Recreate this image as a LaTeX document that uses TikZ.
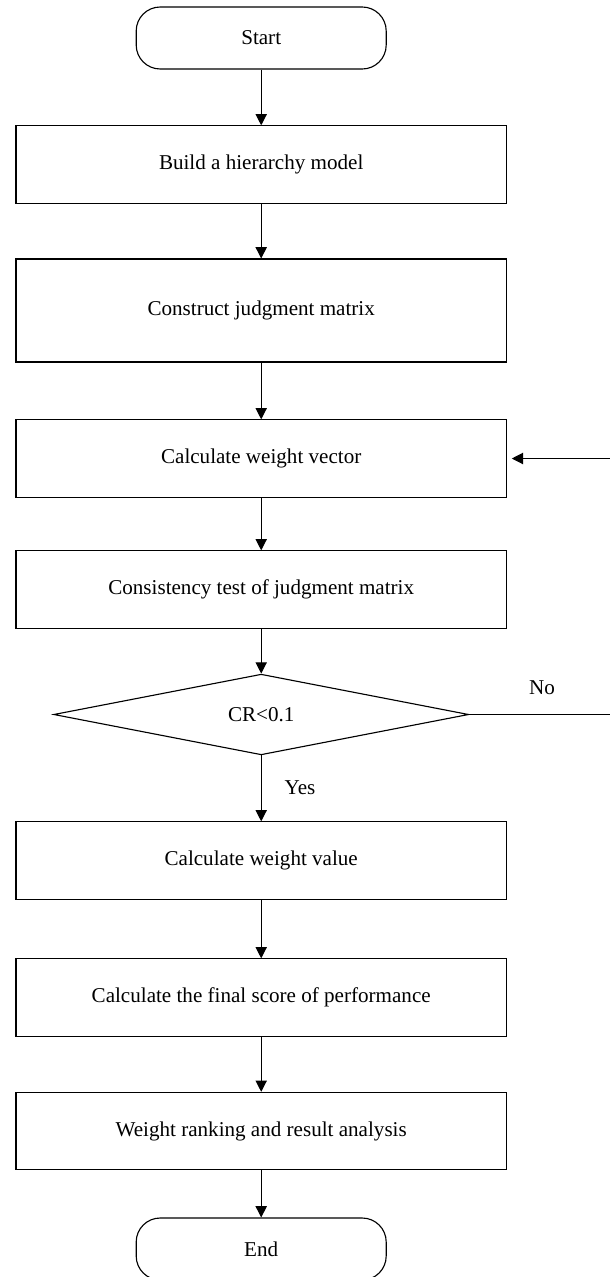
\documentclass[tikz,border=0pt]{standalone}
\usepackage{fontspec}
\setmainfont{Liberation Serif}
\usetikzlibrary{shapes.geometric,arrows.meta}

\tikzset{
  every node/.style={font=\fontsize{15}{18}\selectfont},
  process/.style={draw, line width=0.8pt, minimum width=12.26cm, minimum height=1.93cm, inner sep=0pt},
  terminal/.style={draw, line width=0.8pt, rounded corners=0.6cm, minimum width=6.25cm, minimum height=1.55cm, inner sep=0pt},
  decision/.style={draw, line width=0.8pt, diamond, minimum width=10.375cm, minimum height=1.975cm, inner sep=0pt},
  flow/.style={line width=0.8pt, -{Triangle[length=8pt,width=8pt]}}
}

\begin{document}
\begin{tikzpicture}
    \useasboundingbox (0,0) rectangle (15.25,-31.925);
    \node[terminal] (start) at (6.53, -0.95) {Start};
    \node[process] (model) at (6.53, -4.1125) {Build a hierarchy model};
    \node[process, minimum height=2.575cm] (matrix) at (6.53, -7.7625) {Construct judgment matrix};
    \node[process] (vector) at (6.53, -11.4625) {Calculate weight vector};
    \node[process] (test) at (6.53, -14.7375) {Consistency test of judgment matrix};
    \node[decision] (cr) at (6.53, -17.8625) {CR<0.1};
    \node[process] (value) at (6.53, -21.5125) {Calculate weight value};
    \node[process] (score) at (6.53, -24.9375) {Calculate the final score of performance};
    \node[process] (rank) at (6.53, -28.275) {Weight ranking and result analysis};
    \node[terminal] (end) at (6.53, -31.225) {End};
    \node (yes) at (7.5, -19.7) {Yes};
    \node (no) at (13.55, -17.2) {No};
    \coordinate (noend) at (15.25, -17.8625);
    \coordinate (back) at (15.25, -11.4625);

    \draw[flow] (start) -- (model);
    \draw[flow] (model) -- (matrix);
    \draw[flow] (matrix) -- (vector);
    \draw[flow] (vector) -- (test);
    \draw[flow] (test) -- (cr);
    \draw[flow] (cr) -- (value);
    \draw[flow] (value) -- (score);
    \draw[flow] (score) -- (rank);
    \draw[flow] (rank) -- (end);
    \draw[line width=0.8pt] (cr.east) -- (noend);
    \draw[flow, shorten >=0.12cm] (back) -- (vector.east);
\end{tikzpicture}
\end{document}
